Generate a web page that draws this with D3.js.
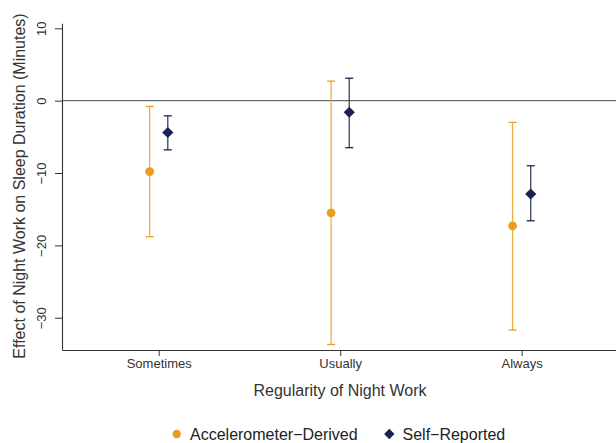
<!DOCTYPE html>
<html>
<head>
<meta charset="utf-8">
<script src="https://cdn.jsdelivr.net/npm/d3@7/dist/d3.min.js"></script>
<style>
  html, body { margin: 0; padding: 0; background: #fff; }
  svg { display: block; font-family: "Liberation Sans", Arial, Helvetica, sans-serif; }
</style>
</head>
<body>
<svg id="chart" width="616" height="443"></svg>
<script>
// Regularity of night work categories
const categories = ["Sometimes", "Usually", "Always"];

// Accelerometer-derived estimates with 95% CI (minutes)
const accelEstimate = [-9.8, -15.5, -17.3];
const accelLower = [-18.8, -33.7, -31.7];
const accelUpper = [-0.8, 2.7, -3.0];

// Self-reported estimates with 95% CI (minutes)
const selfEstimate = [-4.4, -1.6, -12.9];
const selfLower = [-6.8, -6.5, -16.6];
const selfUpper = [-2.1, 3.1, -9.0];

const yTicks = [10, 0, -10, -20, -30];

const series = [
  { name: "Accelerometer\u2212Derived", est: accelEstimate, lo: accelLower, hi: accelUpper,
    color: "#E99D24", line: "#EFAD45", shape: "circle", offset: -0.05 },
  { name: "Self\u2212Reported", est: selfEstimate, lo: selfLower, hi: selfUpper,
    color: "#1B2152", line: "#3A4068", shape: "diamond", offset: 0.05 }
];

const svg = d3.select("#chart");
const plotLeft = 62, plotRight = 616, plotTop = 23.3, plotBottom = 350;

const x = d3.scaleLinear().domain([0.467, 3.52]).range([plotLeft, plotRight]);
const y = d3.scaleLinear().domain([10.69, -34.46]).range([plotTop, plotBottom]);

// zero reference line
svg.append("line")
  .attr("x1", plotLeft).attr("x2", plotRight)
  .attr("y1", y(0)).attr("y2", y(0))
  .attr("stroke", "#6b6b6b").attr("stroke-width", 1.1);

// y axis
const yAxis = svg.append("g").attr("transform", `translate(${plotLeft},0)`)
  .call(d3.axisLeft(y).tickValues(yTicks).tickSize(7).tickSizeOuter(0)
    .tickFormat(d => d < 0 ? "\u2212" + Math.abs(d) : d));
yAxis.select(".domain").attr("stroke", "#333").attr("stroke-width", 1.1);
yAxis.selectAll(".tick line").attr("stroke", "#333");
yAxis.selectAll(".tick text")
  .attr("transform", "rotate(-90)")
  .attr("x", 0).attr("y", -16).attr("dy", 0)
  .attr("text-anchor", "middle")
  .style("font-size", "13px").attr("fill", "#333");

// x axis
const xAxis = svg.append("g").attr("transform", `translate(0,${plotBottom})`)
  .call(d3.axisBottom(x).tickValues([1, 2, 3]).tickSize(6).tickSizeOuter(0)
    .tickFormat(d => categories[d - 1]));
xAxis.select(".domain").attr("stroke", "#333").attr("stroke-width", 1.1);
xAxis.selectAll(".tick line").attr("stroke", "#333");
xAxis.selectAll(".tick text")
  .attr("y", 9).attr("dy", "0.71em")
  .style("font-size", "13px").attr("fill", "#333");

// axis titles
svg.append("text")
  .attr("x", 340).attr("y", 396)
  .attr("text-anchor", "middle")
  .style("font-size", "16px").attr("fill", "#333")
  .text("Regularity of Night Work");

svg.append("text")
  .attr("transform", `translate(25,186) rotate(-90)`)
  .attr("text-anchor", "middle")
  .style("font-size", "16px").attr("fill", "#333")
  .text("Effect of Night Work on Sleep Duration (Minutes)");

const diamond = s => `M0,${-s}L${s},0L0,${s}L${-s},0Z`;

// error bars and point estimates
series.forEach(s => {
  const g = svg.append("g");
  categories.forEach((c, i) => {
    const cx = x(i + 1 + s.offset);
    g.append("line")
      .attr("x1", cx).attr("x2", cx)
      .attr("y1", y(s.lo[i])).attr("y2", y(s.hi[i]))
      .attr("stroke", s.line).attr("stroke-width", 1.3);
    [s.lo[i], s.hi[i]].forEach(v => {
      g.append("line")
        .attr("x1", cx - 4).attr("x2", cx + 4)
        .attr("y1", y(v)).attr("y2", y(v))
        .attr("stroke", s.color).attr("stroke-width", 1.3);
    });
    if (s.shape === "circle") {
      g.append("circle").attr("cx", cx).attr("cy", y(s.est[i])).attr("r", 4.4)
        .attr("fill", s.color);
    } else {
      g.append("path").attr("transform", `translate(${cx},${y(s.est[i])})`)
        .attr("d", diamond(5.6)).attr("fill", s.color);
    }
  });
});

// legend
const legend = svg.append("g").attr("transform", "translate(0,434)");
const legendItems = [
  { s: series[0], mx: 176.7, tx: 190 },
  { s: series[1], mx: 389.3, tx: 402.5 }
];
legendItems.forEach(({ s, mx, tx }) => {
  if (s.shape === "circle") {
    legend.append("circle").attr("cx", mx).attr("cy", 0).attr("r", 4.2).attr("fill", s.color);
  } else {
    legend.append("path").attr("transform", `translate(${mx},0)`)
      .attr("d", diamond(5.2)).attr("fill", s.color);
  }
  legend.append("text")
    .attr("x", tx).attr("y", 0).attr("dy", "0.36em")
    .style("font-size", "16px").attr("fill", "#222")
    .text(s.name);
});
</script>
</body>
</html>
